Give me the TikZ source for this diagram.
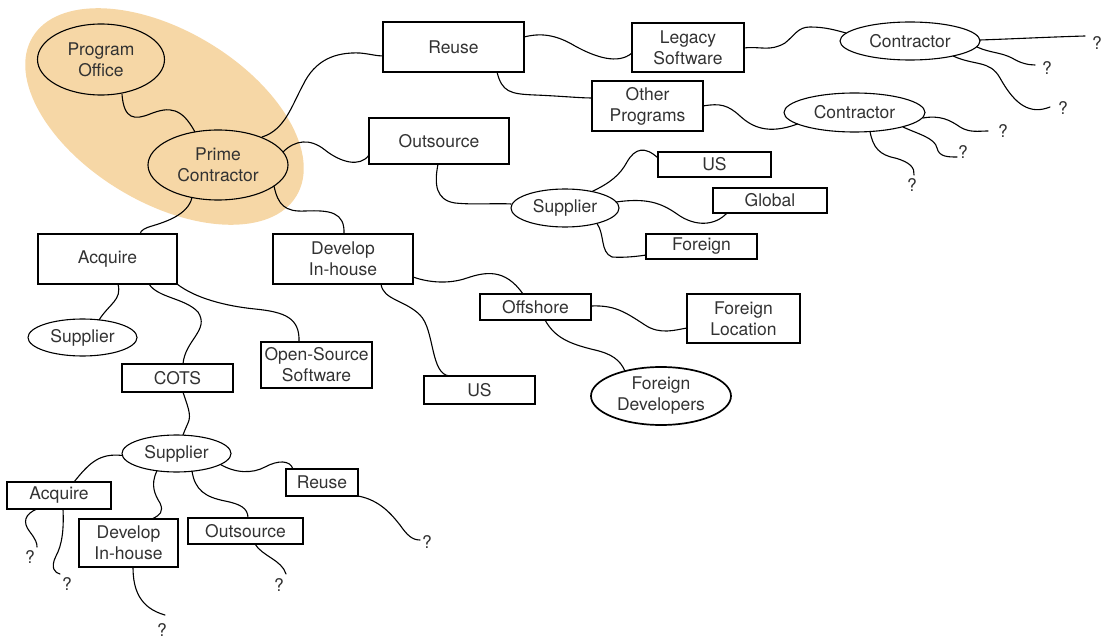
\documentclass[tikz,border=0pt]{standalone}
\usepackage{fontspec}
\setmainfont{TeX Gyre Heros}
\usetikzlibrary{shapes.geometric,calc}
\definecolor{hl}{RGB}{246,215,166}
\definecolor{txt}{RGB}{50,50,50}
\tikzset{
  lbl/.style={text=txt, font=\fontsize{17.5}{21}\selectfont, align=center},
  box/.style={lbl, draw, line width=1.1pt, rectangle, inner sep=0pt},
  oval/.style={lbl, draw, line width=1.1pt, ellipse, inner sep=0pt},
  qm/.style={lbl, inner sep=1pt},
  link/.style={line width=1.1pt, line cap=round},
}
\begin{document}
\begin{tikzpicture}[x=1pt,y=-1pt]
\useasboundingbox (0,0) rectangle (1103,639);
% highlight
\node[fill=hl, ellipse, minimum width=308pt, minimum height=172pt, rotate=-31, inner sep=0pt] (hlt) at (164.5,116.5) {};
% ovals
\node[oval, minimum width=127pt, minimum height=71pt] (po) at (101,59.5) {Program\\Office};
\node[oval, minimum width=140pt, minimum height=70pt] (pc) at (218,165) {Prime\\Contractor};
\node[oval, minimum width=140pt, minimum height=38pt] (c1) at (910,41) {Contractor};
\node[oval, minimum width=141pt, minimum height=39pt] (c2) at (854.5,112.5) {Contractor};
\node[oval, minimum width=108pt, minimum height=38pt] (supo) at (565,208) {Supplier};
\node[oval, minimum width=109pt, minimum height=37pt] (supa) at (82.5,337.5) {Supplier};
\node[oval, minimum width=109pt, minimum height=37pt] (supb) at (176.5,453.5) {Supplier};
\node[oval, line width=1.7pt, minimum width=140pt, minimum height=58pt] (fd) at (661,396) {Foreign\\Developers};
% boxes
\node[box, minimum width=141pt, minimum height=50pt] (reuse) at (453.5,47) {Reuse};
\node[box, minimum width=112pt, minimum height=49pt] (legacy) at (688,47.5) {Legacy\\Software};
\node[box, minimum width=111pt, minimum height=50pt] (other) at (647.5,106) {Other\\Programs};
\node[box, minimum width=140pt, minimum height=46pt] (outs) at (439,141) {Outsource};
\node[box, minimum width=113pt, minimum height=25pt] (usa) at (714.5,164.5) {US};
\node[box, minimum width=114pt, minimum height=25pt] (global) at (770,200.5) {Global};
\node[box, minimum width=111pt, minimum height=25pt] (foreign) at (701.5,246.5) {Foreign};
\node[box, minimum width=139pt, minimum height=50pt] (acq) at (107.5,259) {Acquire};
\node[box, minimum width=140pt, minimum height=50pt] (dev) at (343,259) {Develop\\In-house};
\node[box, minimum width=111pt, minimum height=28pt] (cots) at (177.5,378) {COTS};
\node[box, line width=1.7pt, minimum width=111pt, minimum height=46pt] (oss) at (316.5,365) {Open-Source\\Software};
\node[box, minimum width=111pt, minimum height=26pt] (offs) at (535.5,307) {Offshore};
\node[box, minimum width=113pt, minimum height=49pt] (floc) at (743.5,318.5) {Foreign\\Location};
\node[box, minimum width=111pt, minimum height=28pt] (usb) at (479.5,390) {US};
\node[box, minimum width=104pt, minimum height=27pt] (acqb) at (59,495.5) {Acquire};
\node[box, minimum width=99pt, minimum height=48pt] (devb) at (128.5,543) {Develop\\In-house};
\node[box, minimum width=115pt, minimum height=26pt] (outb) at (245.5,531) {Outsource};
\node[box, minimum width=72pt, minimum height=27pt] (reb) at (322,482.5) {Reuse};
% question marks
\node[qm] (q1) at (1097,43) {?};
\node[qm] (q2) at (1047,68) {?};
\node[qm] (q3) at (1063,108) {?};
\node[qm] (q4) at (1003,131) {?};
\node[qm] (q5) at (963,152) {?};
\node[qm] (q6) at (912,185) {?};
\node[qm] (q7) at (30,557) {?};
\node[qm] (q8) at (67,584) {?};
\node[qm] (q9) at (162,630) {?};
\node[qm] (q10) at (279,585) {?};
\node[qm] (q11) at (427,542) {?};
% connectors
\draw[link] ($(po)+(21,35)$) .. controls (124,120) and (135,120) .. (150,114) .. controls (170,106) and (182,108) .. ($(pc)+(-23,-33)$);
\draw[link] ($(pc)+(44,-28)$) .. controls (285,130) and (292,105) .. (303,85) .. controls (315,60) and (335,52) .. (360,53) .. controls (370,54) and (377,56) .. ($(reuse)+(-70.5,9)$);
\draw[link] ($(pc)+(65,-13)$) .. controls (295,140) and (310,138) .. (325,150) .. controls (340,162) and (360,168) .. ($(outs)+(-70,14)$);
\draw[link] ($(pc)+(56,21)$) .. controls (278,205) and (285,212) .. (305,211) .. controls (330,210) and (345,212) .. ($(dev)+(1,-25)$);
\draw[link] ($(pc)+(-26,32.5)$) .. controls (188,215) and (165,222) .. (152,226) .. controls (145,228) and (141,230) .. ($(acq)+(32.5,-25)$);
\draw[link] ($(reuse)+(70.5,-10)$) .. controls (540,33) and (555,34) .. (575,46) .. controls (595,57) and (618,65) .. ($(legacy)+(-56,5.5)$);
\draw[link] ($(reuse)+(43.5,25)$) .. controls (502,92) and (510,94) .. (535,95) .. controls (560,96) and (580,98) .. ($(other)+(-55.5,-8)$);
\draw[link] ($(legacy)+(56,0.5)$) .. controls (760,46) and (770,52) .. (785,43) .. controls (795,35) and (798,27) .. (810,27) .. controls (825,27) and (835,30) .. ($(c1)+(-64,-8)$);
\draw[link] ($(c1)+(70,-1)$) .. controls (1010,39) and (1050,37) .. ($(q1)+(-12,-7)$);
\draw[link] ($(c1)+(67,6)$) .. controls (990,53) and (1000,52) .. (1012,58) .. controls (1020,63) and (1028,65) .. ($(q2)+(-12,-3)$);
\draw[link] ($(c1)+(43,15)$) .. controls (975,66) and (990,60) .. (1000,78) .. controls (1015,105) and (1030,115) .. ($(q3)+(-13,-1)$);
\draw[link] ($(other)+(55.5,0)$) .. controls (720,103) and (728,105) .. (740,116) .. controls (752,127) and (768,135) .. ($(c2)+(-57,11.5)$);
\draw[link] ($(c2)+(68.5,5.5)$) .. controls (940,115) and (950,120) .. (960,127) .. controls (970,133) and (978,131) .. ($(q4)+(-15,0)$);
\draw[link] ($(c2)+(48.5,14.5)$) .. controls (918,134) and (935,138) .. (937,148) .. controls (939,157) and (948,157) .. ($(q5)+(-6,5)$);
\draw[link] ($(c2)+(15.5,19)$) .. controls (873,148) and (880,155) .. (895,158) .. controls (910,162) and (915,168) .. ($(q6)+(2,-10)$);
\draw[link] ($(outs)+(-1,23)$) .. controls (434,185) and (436,200) .. (455,203) .. controls (475,205) and (495,203) .. ($(supo)+(-54,-4)$);
\draw[link] ($(supo)+(27,-16.5)$) .. controls (610,183) and (620,175) .. (627,162) .. controls (635,148) and (645,146) .. ($(usa)+(-56.5,-6.5)$);
\draw[link] ($(supo)+(51,-6)$) .. controls (645,198) and (660,202) .. (677,214) .. controls (695,227) and (715,226) .. ($(global)+(-43,12.5)$);
\draw[link] ($(supo)+(32,15.5)$) .. controls (605,235) and (600,252) .. (612,257) .. controls (625,258) and (640,256) .. ($(foreign)+(-55.5,8.5)$);
\draw[link] ($(acq)+(10.5,25)$) .. controls (122,300) and (110,303) .. ($(supa)+(16.5,-17.5)$);
\draw[link] ($(acq)+(41.5,25)$) .. controls (158,298) and (185,298) .. (198,312) .. controls (210,330) and (185,340) .. ($(cots)+(5.5,-14)$);
\draw[link] ($(acq)+(69.5,25)$) .. controls (195,298) and (225,306) .. (255,309) .. controls (285,312) and (300,318) .. ($(oss)+(-17.5,-23)$);
\draw[link] ($(dev)+(38,25)$) .. controls (383,300) and (405,300) .. (420,315) .. controls (435,330) and (430,375) .. ($(usb)+(-29.5,-14)$);
\draw[link] ($(dev)+(70,18)$) .. controls (430,283) and (450,284) .. (467,278) .. controls (485,272) and (505,268) .. ($(offs)+(-12.5,-13)$);
\draw[link] ($(offs)+(55.5,-1)$) .. controls (615,305) and (625,312) .. (645,325) .. controls (660,335) and (675,330) .. ($(floc)+(-56.5,9.5)$);
\draw[link] ($(offs)+(9.5,13)$) .. controls (555,338) and (570,344) .. (595,350) .. controls (612,354) and (620,360) .. ($(fd)+(-36,-25)$);
\draw[link] ($(cots)+(5.5,14)$) .. controls (187,405) and (192,415) .. (188,423) .. controls (185,430) and (184,432) .. ($(supb)+(6.5,-18.5)$);
\draw[link] ($(supb)+(-54,2)$) .. controls (100,453) and (90,462) .. ($(acqb)+(15,-13.5)$);
\draw[link] ($(supb)+(-19.5,17.3)$) .. controls (150,485) and (155,495) .. (160,503) .. controls (164,512) and (160,515) .. ($(devb)+(23.5,-24)$);
\draw[link] ($(supb)+(15.5,17.7)$) .. controls (195,490) and (205,497) .. (225,501) .. controls (240,504) and (248,508) .. ($(outb)+(2.5,-13)$);
\draw[link] ($(supb)+(44,11)$) .. controls (235,473) and (252,474) .. (265,467) .. controls (278,460) and (290,460) .. ($(reb)+(-29,-13.5)$);
\draw[link] ($(acqb)+(-22,13.5)$) .. controls (25,514) and (22,522) .. (30,532) .. controls (36,540) and (37,543) .. ($(q7)+(7,-10)$);
\draw[link] ($(acqb)+(4,13.5)$) .. controls (64,530) and (62,545) .. (56,556) .. controls (50,568) and (55,573) .. ($(q8)+(-7,-10)$);
\draw[link] ($(devb)+(4.5,24)$) .. controls (133,590) and (140,608) .. ($(q9)+(3,-15)$);
\draw[link] ($(outb)+(9.5,13)$) .. controls (262,556) and (282,560) .. ($(q10)+(7,-11)$);
\draw[link] ($(reb)+(36,13.5)$) .. controls (380,500) and (392,515) .. (400,525) .. controls (407,535) and (412,540) .. ($(q11)+(-7,-2)$);
\end{tikzpicture}
\end{document}
